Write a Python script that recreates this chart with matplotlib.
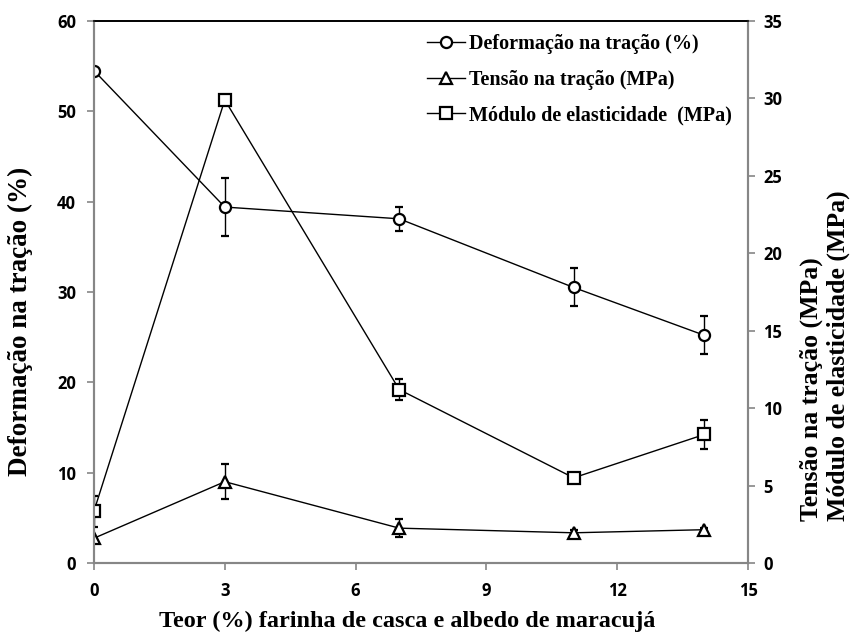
import matplotlib
matplotlib.use("Agg")
import matplotlib.pyplot as plt

# Teor (%) de farinha
teor = [0, 3, 7, 11, 14]

deformacao = [54.5, 39.4, 38.1, 30.5, 25.2]
deformacao_err = [0.0, 3.2, 1.3, 2.1, 2.1]

tensao = [1.6, 5.25, 2.25, 1.95, 2.15]
tensao_err = [0.0, 1.15, 0.6, 0.15, 0.1]

modulo = [3.35, 29.9, 11.2, 5.5, 8.3]
modulo_err = [1.0, 0.1, 0.7, 0.3, 0.95]

labels = ["Deformação na tração (%)", "Tensão na tração (MPa)",
          "Módulo de elasticidade  (MPa)"]

SERIF = "Liberation Serif"
SANS = "Open Sans"
GRAY = "#868686"


def style_errorbar(ax, x, y, err, marker, label):
    return ax.errorbar(
        x, y, yerr=err,
        color="black", linewidth=1.0,
        marker=marker, markersize=8, markerfacecolor="white",
        markeredgecolor="black", markeredgewidth=1.6,
        ecolor="black", elinewidth=1.0, capsize=3, capthick=1.0,
        label=label,
    )


fig = plt.figure(figsize=(8.52, 6.35), dpi=100)
ax = fig.add_axes([0.1103, 0.1134, 0.7677, 0.8536])
ax2 = ax.twinx()

h1 = style_errorbar(ax, teor, deformacao, deformacao_err, "o", labels[0])
h2 = style_errorbar(ax2, teor, tensao, tensao_err, "^", labels[1])
h3 = style_errorbar(ax2, teor, modulo, modulo_err, "s", labels[2])

ax.set_xlim(0, 15)
ax.set_ylim(0, 60)
ax2.set_ylim(0, 35)
ax.set_xticks([0, 3, 6, 9, 12, 15])
ax.set_yticks(range(0, 61, 10))
ax2.set_yticks(range(0, 36, 5))

for a in (ax, ax2):
    for side in ("left", "right", "bottom"):
        a.spines[side].set_color(GRAY)
        a.spines[side].set_linewidth(1.5)
    a.spines["top"].set_color("black")
    a.spines["top"].set_linewidth(1.2)
    a.tick_params(direction="out", length=5, width=1.2, color=GRAY,
                  labelsize=12)
    for lbl in a.get_xticklabels() + a.get_yticklabels():
        lbl.set_fontfamily(SANS)
        lbl.set_fontweight("bold")
ax.tick_params(axis="y", pad=8)
ax.tick_params(axis="x", pad=9)
ax2.tick_params(axis="y", pad=6)

ax.set_xlabel("Teor (%) farinha de casca e albedo de maracujá",
              fontfamily=SERIF, fontweight="bold", fontsize=17.5)
ax.xaxis.set_label_coords(0.479, -0.128)
ax.xaxis.label.set_va("bottom")

ax.set_ylabel("Deformação na tração (%)",
              fontfamily=SERIF, fontweight="bold", fontsize=19.5)
ax.yaxis.set_label_coords(-0.093, 0.445)

fig.text(811 / 852, 1 - 521 / 635, "Tensão na tração (MPa)",
         rotation=90, ha="center", va="bottom",
         fontfamily=SERIF, fontweight="bold", fontsize=18.5)
fig.text(838 / 852, 1 - 521 / 635, "Módulo de elasticidade (MPa)",
         rotation=90, ha="center", va="bottom",
         fontfamily=SERIF, fontweight="bold", fontsize=18.5)

leg = fig.legend(
    handles=[h1[0], h2[0], h3[0]], labels=labels,
    loc="upper left", bbox_to_anchor=(427 / 852, 1 - 34 / 635),
    frameon=False, handlelength=1.9, handletextpad=0.2,
    labelspacing=0.78, borderpad=0, borderaxespad=0,
    prop={"family": SERIF, "weight": "bold", "size": 14.5},
)

fig.savefig("out.png", dpi=100)
